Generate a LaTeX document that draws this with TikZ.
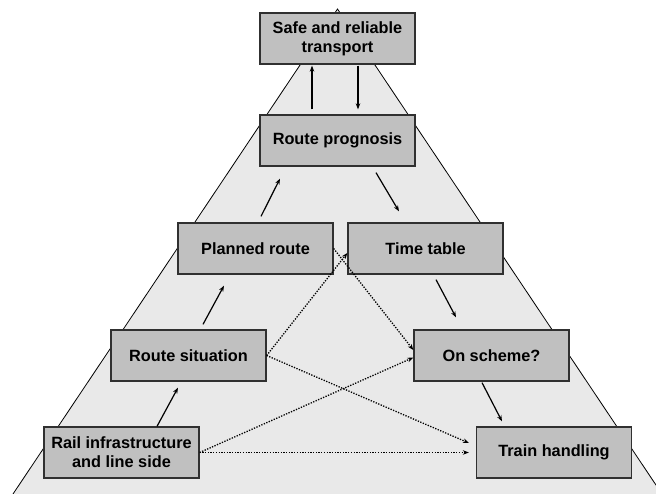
\documentclass[tikz,border=0pt]{standalone}
\usepackage{fontspec}
\setmainfont{Liberation Sans}
\usetikzlibrary{calc,arrows.meta}
\definecolor{pyramid}{HTML}{E9E9E9}
\definecolor{boxgray}{HTML}{C0C0C0}
\definecolor{boxline}{HTML}{303030}
\tikzset{
  stage/.style={draw=boxline, line width=1.3pt, fill=boxgray, minimum width=155pt,
    minimum height=51pt, inner sep=0pt, align=center,
    font=\fontsize{16.3}{19}\selectfont\bfseries},
  flow/.style={line width=1.2pt, -{Stealth[length=6pt,width=4.5pt]}},
  link/.style={line width=1.3pt, dash pattern=on 1.3pt off 1.4pt,
    -{Stealth[length=6pt,width=4.5pt]}},
}
\begin{document}
\begin{tikzpicture}[x=1pt,y=-1pt]
  \useasboundingbox (0,0) rectangle (656,494);
  % background pyramid
  \begin{scope}
    \clip (0,0) rectangle (656,494);
    \draw[fill=pyramid, line width=0.8pt] (13,494) -- (337.5,9) -- (662,494);
  \end{scope}

  % stages
  \node[stage] (safe)      at (337.5,38.5)  {Safe and reliable\\transport};
  \node[stage] (prog)      at (337.5,140.5) {Route prognosis};
  \node[stage] (planned)   at (255.5,248.5) {Planned route};
  \node[stage] (timetable) at (425.5,248.5) {Time table};
  \node[stage] (situation) at (188.5,355.5) {Route situation};
  \node[stage] (scheme)    at (491.5,355.5) {On scheme?};
  \node[stage] (rail)      at (121.5,452.5) {Rail infrastructure\\and line side};
  \node[stage] (train)     at (554,452.5)   {Train handling};

  % solid flows
  \draw[flow] ($(prog.north)+(-25.5,-5)$) -- ($(safe.south)+(-25.5,1)$);
  \draw[flow] ($(safe.south)+(20.5,1)$) -- ($(prog.north)+(20.5,-5)$);
  \draw[flow] ($(planned.north)+(5.5,-6)$) -- ($(prog.south)+(-57.5,12)$);
  \draw[flow] ($(prog.south)+(38.5,6)$) -- ($(timetable.north)+(-26.5,-11)$);
  \draw[flow] ($(situation.north)+(14.5,-5)$) -- ($(planned.south)+(-31.5,11)$);
  \draw[flow] ($(timetable.south)+(10.5,5)$) -- ($(scheme.north)+(-35.5,-12)$);
  \draw[flow] ($(rail.north)+(35.5,0)$) -- ($(situation.south)+(-10.5,6)$);
  \draw[flow] ($(scheme.south)+(-9.5,1)$) -- ($(train.north)+(-52,-5)$);

  % dotted links
  \draw[link] (planned.east) -- ($(scheme.west)+(0,-5.5)$);
  \draw[link] (situation.east) -- ($(timetable.west)+(0,4.5)$);
  \draw[link] (situation.east) -- ($(train.west)+(-7,-9.5)$);
  \draw[link] (rail.east) -- ($(scheme.west)+(0,2)$);
  \draw[link] (rail.east) -- ($(train.west)+(-7,0)$);
\end{tikzpicture}
\end{document}
